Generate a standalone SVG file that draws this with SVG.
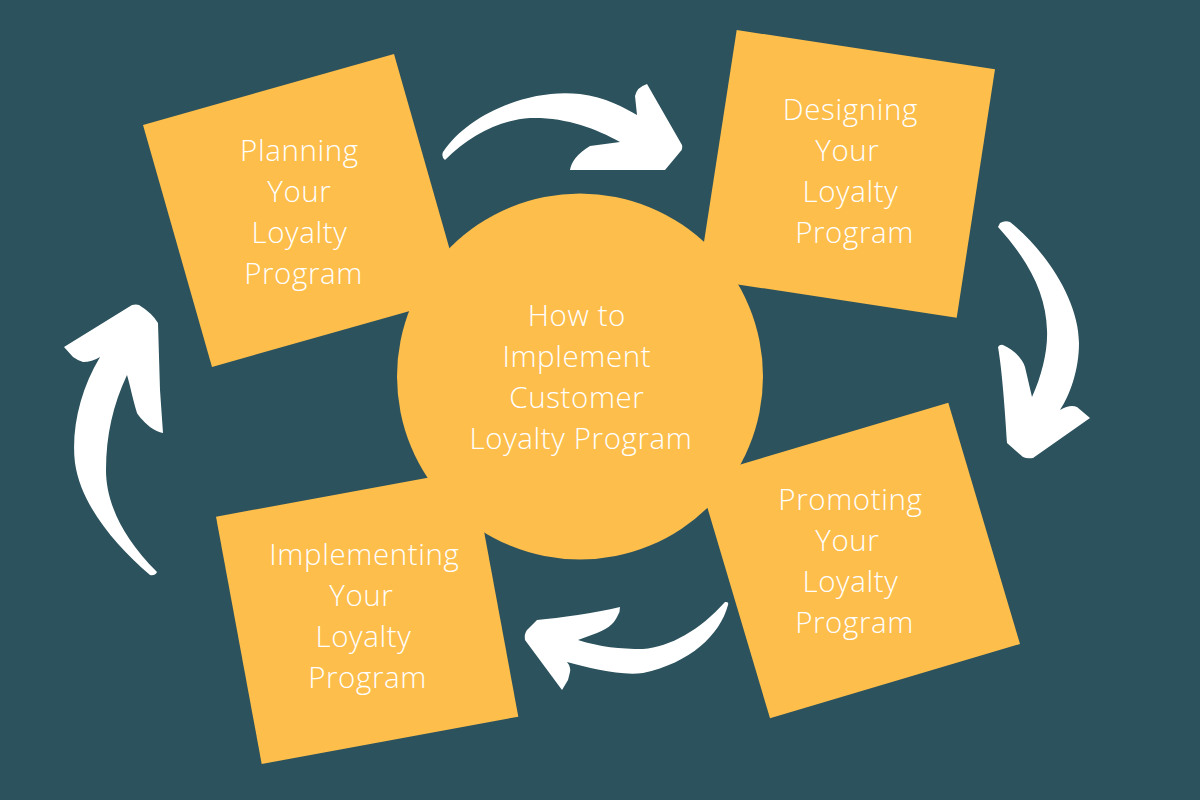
<svg xmlns="http://www.w3.org/2000/svg" width="1200" height="800" viewBox="0 0 1200 800">
  <style>
    .bg { fill: #2B525D; }
    .card { fill: #FDBE4B; }
    .arrow { fill: #FFFFFF; }
    .label { font-family: "Open Sans", "Liberation Sans", sans-serif; font-size: 29.5px; font-weight: 360; letter-spacing: 0.6px; fill: #FFFFFF; text-anchor: middle; }
  </style>
  <rect class="bg" x="0" y="0" width="1200" height="800"/>

  <g id="node-planning">
    <polygon class="card" points="143,125 394,54 463,296 212,367"/>
    <text class="label">
      <tspan x="303.5" y="161">Planning</tspan>
      <tspan x="303.5" y="202">Your</tspan>
      <tspan x="303.5" y="243">Loyalty</tspan>
      <tspan x="303.5" y="284">Program</tspan>
    </text>
  </g>

  <g id="node-designing">
    <polygon class="card" points="736.7,30 995,69.3 956.7,317.7 698.4,278.4"/>
    <text class="label">
      <tspan x="854.5" y="120">Designing</tspan>
      <tspan x="851.5" y="161">Your</tspan>
      <tspan x="854.5" y="202">Loyalty</tspan>
      <tspan x="854.5" y="243">Program</tspan>
    </text>
  </g>

  <g id="node-promoting">
    <polygon class="card" points="698.3,477 948.3,402.7 1020,644 770,718.3"/>
    <text class="label">
      <tspan x="854.5" y="510">Promoting</tspan>
      <tspan x="851.5" y="551">Your</tspan>
      <tspan x="854.5" y="592">Loyalty</tspan>
      <tspan x="854.5" y="633">Program</tspan>
    </text>
  </g>

  <g id="node-implementing">
    <polygon class="card" points="216,516.7 472.6,469.4 518.3,716.7 261.7,764"/>
    <text class="label">
      <tspan x="368.5" y="565">Implementing</tspan>
      <tspan x="365.5" y="606">Your</tspan>
      <tspan x="367.5" y="647">Loyalty</tspan>
      <tspan x="367.5" y="688">Program</tspan>
    </text>
  </g>

  <g id="node-center">
    <circle class="card" cx="580" cy="376.5" r="183"/>
    <text class="label">
      <tspan x="581" y="326">How to</tspan>
      <tspan x="581" y="367">Implement</tspan>
      <tspan x="581" y="408">Customer</tspan>
      <tspan x="581" y="449">Loyalty Program</tspan>
    </text>
  </g>

  <g id="connectors">
    <path class="arrow" d="M443,152 C468,114 530,88 580,94 C605,97 625,108 637,115 L635,96 Q637,87 647,84 L682,145 Q683,150 680,152 L665,170 L570,170 Q572,157 590,146 L620,142 C595,128 565,117 530,118 C500,120 470,135 445,160 Q441,157 443,152 Z"/>
    <path class="arrow" d="M1000,223 Q1005,220 1010,222 C1045,250 1079,300 1079,343 C1079,370 1070,395 1060,410 Q1070,404 1077,407 L1090,418 L1033,458 Q1027,459 1023,457 L1007,443 C1005,410 1002,370 998,347 Q1000,344 1003,345 C1015,350 1023,360 1025,367 L1032,397 C1042,375 1048,350 1047,330 C1046,295 1030,262 998,227 Z"/>
    <path class="arrow" d="M726,602 Q729,602 728,605 C720,635 690,663 643,673 C620,676 590,668 567,662 Q571,667 570,672 L568,680 L562,690 L525,640 Q524,634 527,630 L537,620 C560,618 595,613 620,607 Q620,612 618,615 C615,622 610,628 597,633 L578,640 C600,647 620,649 643,649 C670,647 700,630 725,602 Z"/>
    <path class="arrow" d="M157,572 Q155,576 150,575 C115,545 81,505 75,463 C71,430 80,390 100,357 Q92,362 83,362 Q77,360 73,357 L64,347 L132,305 Q136,304 139,305 Q152,313 158,323 L160,390 L163,433 Q157,432 150,427 C142,420 138,415 137,413 C133,400 130,385 127,375 C113,405 106,435 106,470 C106,500 120,535 157,572 Z"/>
  </g>
</svg>
